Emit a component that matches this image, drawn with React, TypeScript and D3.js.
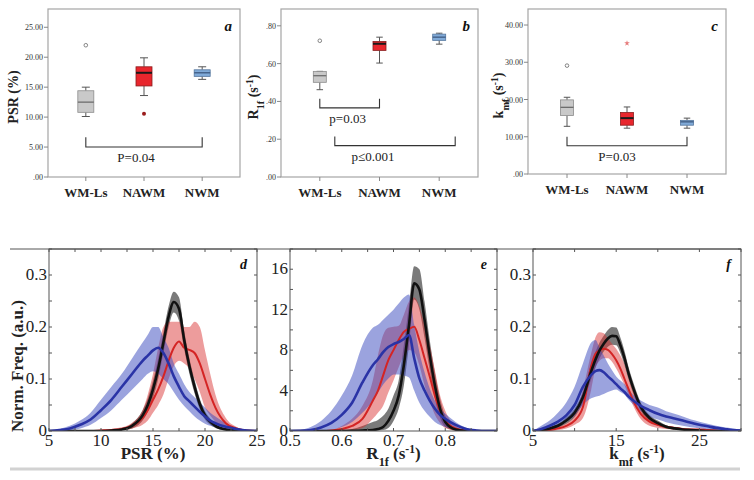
import * as d3 from "d3";
import { useEffect, useRef } from "react";

const W = 754;
const H = 480;
const SERIF = '"Liberation Serif", "Times New Roman", Times, serif';

// ---------- box plots (a, b, c) ----------
const groups = ["WM-Ls", "NAWM", "NWM"];

// [low whisker, Q1, median, Q3, high whisker]
const psrBox = [
  [10.1, 10.8, 12.5, 14.4, 15.0],
  [13.6, 15.2, 17.4, 18.4, 19.9],
  [16.3, 16.8, 17.4, 17.9, 18.4],
];
const psrOutliers = [[22.0], [10.55], []];

const r1fBox = [
  [0.462, 0.501, 0.536, 0.559, 0.559],
  [0.603, 0.67, 0.705, 0.717, 0.74],
  [0.703, 0.723, 0.74, 0.756, 0.761],
];
const r1fOutliers = [[0.721], [], []];

const kmfBox = [
  [12.8, 15.7, 17.9, 19.9, 20.6],
  [12.3, 13.1, 15.0, 16.5, 18.0],
  [12.3, 13.1, 14.0, 14.4, 15.0],
];
const kmfOutliers = [[29.1], [35.1], []];

const psrTicks = [0, 5, 10, 15, 20, 25];
const r1fTicks = [0, 0.2, 0.4, 0.6, 0.8];
const kmfTicks = [0, 10, 20, 30, 40];

// ---------- distributions (d, e, f) ----------
const psrX = [5, 6, 7, 8, 9, 10, 11, 12, 13, 14, 14.5, 15, 15.5, 16, 16.5, 17, 17.5, 18, 18.5, 19, 19.5, 20, 20.5, 21, 22, 23, 24, 25];
const psrBlack = [0, 0, 0, 0, 0, 0, 0.001, 0.003, 0.01, 0.03, 0.05, 0.08, 0.12, 0.17, 0.22, 0.248, 0.235, 0.175, 0.125, 0.085, 0.052, 0.03, 0.018, 0.01, 0.003, 0.001, 0, 0];
const psrBlackLo = [0, 0, 0, 0, 0, 0, 0, 0.001, 0.005, 0.02, 0.037, 0.063, 0.1, 0.15, 0.2, 0.228, 0.212, 0.157, 0.11, 0.072, 0.042, 0.022, 0.012, 0.006, 0.001, 0, 0, 0];
const psrBlackHi = [0, 0, 0, 0, 0, 0, 0.002, 0.005, 0.015, 0.04, 0.063, 0.097, 0.14, 0.19, 0.24, 0.268, 0.257, 0.193, 0.14, 0.098, 0.062, 0.038, 0.024, 0.014, 0.005, 0.002, 0, 0];
const psrRed = [0, 0, 0, 0, 0, 0.001, 0.002, 0.004, 0.01, 0.025, 0.04, 0.06, 0.08, 0.105, 0.135, 0.16, 0.172, 0.16, 0.156, 0.15, 0.13, 0.1, 0.07, 0.045, 0.015, 0.005, 0.001, 0];
const psrRedLo = [0, 0, 0, 0, 0, 0, 0.001, 0.002, 0.005, 0.012, 0.02, 0.035, 0.05, 0.07, 0.1, 0.125, 0.135, 0.13, 0.12, 0.1, 0.075, 0.045, 0.03, 0.018, 0.005, 0.001, 0, 0];
const psrRedHi = [0, 0, 0, 0, 0, 0.002, 0.004, 0.007, 0.016, 0.04, 0.07, 0.11, 0.16, 0.2, 0.21, 0.21, 0.21, 0.2, 0.2, 0.21, 0.2, 0.155, 0.11, 0.07, 0.025, 0.008, 0.002, 0];
const psrBlue = [0, 0.002, 0.005, 0.012, 0.022, 0.04, 0.06, 0.085, 0.11, 0.135, 0.145, 0.155, 0.16, 0.15, 0.13, 0.105, 0.085, 0.067, 0.057, 0.047, 0.037, 0.028, 0.02, 0.015, 0.008, 0.004, 0.001, 0];
const psrBlueLo = [0, 0, 0.001, 0.005, 0.012, 0.025, 0.04, 0.06, 0.08, 0.1, 0.11, 0.115, 0.11, 0.1, 0.09, 0.075, 0.06, 0.048, 0.038, 0.028, 0.02, 0.014, 0.01, 0.007, 0.003, 0.001, 0, 0];
const psrBlueHi = [0, 0.004, 0.01, 0.02, 0.035, 0.06, 0.085, 0.11, 0.14, 0.17, 0.185, 0.2, 0.2, 0.18, 0.16, 0.13, 0.11, 0.09, 0.075, 0.065, 0.055, 0.045, 0.035, 0.028, 0.015, 0.006, 0.002, 0];

const r1fX = [0.5, 0.52, 0.54, 0.56, 0.58, 0.6, 0.62, 0.64, 0.66, 0.67, 0.68, 0.69, 0.7, 0.71, 0.72, 0.73, 0.74, 0.75, 0.76, 0.77, 0.78, 0.79, 0.8, 0.82, 0.84, 0.86, 0.88, 0.9];
const r1fBlack = [0, 0, 0, 0, 0, 0, 0.02, 0.05, 0.1, 0.2, 0.4, 1.0, 2.0, 3.5, 6.5, 10.5, 14.6, 14.0, 11.0, 7.5, 4.5, 2.2, 0.9, 0.15, 0, 0, 0, 0];
const r1fBlackLo = [0, 0, 0, 0, 0, 0, 0, 0, 0, 0.05, 0.1, 0.3, 1.0, 2.2, 4.5, 8.5, 13, 12, 9.2, 6, 3.2, 1.3, 0.4, 0.05, 0, 0, 0, 0];
const r1fBlackHi = [0, 0, 0, 0, 0, 0, 0.2, 0.5, 0.9, 1.1, 1.5, 2.2, 3.5, 5, 8.5, 12.5, 16.3, 16, 12.8, 9, 5.8, 3.2, 1.5, 0.3, 0.05, 0, 0, 0];
const r1fRed = [0, 0, 0, 0, 0.05, 0.2, 0.5, 1.2, 3, 4, 5.5, 7, 8, 9, 9.8, 10.1, 10.3, 9, 7.2, 5.4, 3.5, 2, 1, 0.25, 0.05, 0, 0, 0];
const r1fRedLo = [0, 0, 0, 0, 0, 0.05, 0.1, 0.3, 1.2, 1.8, 2.5, 3.8, 5, 6.3, 7.5, 8, 7.8, 6.5, 4.5, 3, 1.6, 0.8, 0.3, 0.05, 0, 0, 0, 0];
const r1fRedHi = [0, 0, 0, 0, 0.1, 0.5, 1.2, 2.5, 5, 7.5, 9.5, 10.2, 10.3, 10.4, 11.5, 12.8, 13.2, 12.3, 10.5, 8.5, 6, 3.5, 2, 0.5, 0.1, 0, 0, 0];
const r1fBlue = [0, 0.02, 0.1, 0.35, 0.8, 1.6, 2.8, 4.8, 6.5, 7.1, 7.8, 8.3, 8.6, 8.8, 9.1, 9.5, 7.2, 5.2, 4, 3, 2.2, 1.6, 1.2, 0.6, 0.2, 0.05, 0, 0];
const r1fBlueLo = [0, 0, 0, 0, 0.1, 0.4, 0.9, 1.8, 3, 3.8, 4.6, 5.2, 5.6, 5.6, 5.5, 5.3, 4, 2.8, 2, 1.4, 0.9, 0.6, 0.4, 0.2, 0.05, 0, 0, 0];
const r1fBlueHi = [0, 0.1, 0.4, 1, 2, 3.5, 5.5, 8.5, 10.2, 10.5, 11, 11.5, 12, 12.6, 13.2, 13.5, 10.5, 7.8, 5.8, 4.2, 3, 2.2, 1.7, 0.9, 0.35, 0.1, 0, 0];

const kmfX = [5, 6, 7, 8, 9, 10, 11, 12, 12.5, 13, 13.5, 14, 14.5, 15, 15.5, 16, 16.5, 17, 18, 19, 20, 21, 22, 23, 24, 25, 26, 27, 28, 29, 30];
const kmfBlack = [0, 0.002, 0.005, 0.01, 0.02, 0.035, 0.065, 0.115, 0.137, 0.155, 0.168, 0.178, 0.183, 0.182, 0.165, 0.14, 0.11, 0.085, 0.045, 0.025, 0.015, 0.008, 0.005, 0.003, 0.002, 0.001, 0, 0, 0, 0, 0];
const kmfBlackLo = [0, 0, 0.002, 0.006, 0.014, 0.027, 0.055, 0.1, 0.122, 0.14, 0.153, 0.162, 0.166, 0.165, 0.15, 0.126, 0.098, 0.074, 0.037, 0.019, 0.01, 0.005, 0.003, 0.001, 0, 0, 0, 0, 0, 0, 0];
const kmfBlackHi = [0, 0.004, 0.008, 0.014, 0.026, 0.043, 0.075, 0.13, 0.152, 0.17, 0.183, 0.194, 0.2, 0.199, 0.18, 0.154, 0.122, 0.096, 0.053, 0.031, 0.02, 0.011, 0.007, 0.005, 0.003, 0.002, 0.001, 0, 0, 0, 0];
const kmfRed = [0, 0.001, 0.002, 0.005, 0.01, 0.02, 0.046, 0.125, 0.148, 0.155, 0.158, 0.156, 0.148, 0.136, 0.12, 0.1, 0.08, 0.06, 0.032, 0.018, 0.012, 0.008, 0.006, 0.004, 0.003, 0.003, 0.002, 0.001, 0, 0, 0];
const kmfRedLo = [0, 0, 0, 0.002, 0.005, 0.012, 0.025, 0.08, 0.12, 0.135, 0.14, 0.14, 0.133, 0.12, 0.105, 0.088, 0.068, 0.05, 0.022, 0.01, 0.006, 0.004, 0.003, 0.002, 0.001, 0.001, 0, 0, 0, 0, 0];
const kmfRedHi = [0, 0.002, 0.004, 0.008, 0.015, 0.03, 0.08, 0.15, 0.18, 0.19, 0.188, 0.178, 0.168, 0.158, 0.145, 0.128, 0.1, 0.08, 0.045, 0.025, 0.015, 0.01, 0.008, 0.006, 0.005, 0.004, 0.003, 0.002, 0.001, 0, 0];
const kmfBlue = [0, 0.004, 0.01, 0.018, 0.03, 0.05, 0.085, 0.108, 0.115, 0.117, 0.113, 0.105, 0.098, 0.09, 0.082, 0.075, 0.066, 0.059, 0.048, 0.04, 0.033, 0.028, 0.024, 0.02, 0.016, 0.012, 0.009, 0.006, 0.004, 0.002, 0.001];
const kmfBlueLo = [0, 0, 0.003, 0.008, 0.018, 0.03, 0.05, 0.063, 0.066, 0.068, 0.071, 0.075, 0.078, 0.08, 0.075, 0.07, 0.06, 0.052, 0.038, 0.028, 0.022, 0.017, 0.013, 0.01, 0.007, 0.005, 0.003, 0.002, 0.001, 0, 0];
const kmfBlueHi = [0, 0.01, 0.02, 0.035, 0.055, 0.085, 0.13, 0.17, 0.175, 0.16, 0.145, 0.13, 0.117, 0.105, 0.097, 0.09, 0.08, 0.07, 0.058, 0.05, 0.045, 0.038, 0.033, 0.028, 0.022, 0.018, 0.014, 0.01, 0.007, 0.005, 0.003];

// styles
const boxFill = ["#c9c9c9", "#e8262d", "#80aad8"];
const boxStroke = ["#8c8c8c", "#8a1c1c", "#55779e"];
const medianColor = ["#6d6d6d", "#1a1a1a", "#3d5a80"];

const lineColor = { black: "#111111", red: "#d42424", blue: "#2a33a6" };
const bandColor = {
  black: "rgba(40,40,40,0.62)",
  red: "rgba(218,48,48,0.48)",
  blue: "rgba(55,72,190,0.5)",
};

type Part = [string, string?];

const richText = (sel: any, parts: Part[]) => {
  parts.forEach(([t, kind]) => {
    const ts = sel.append("tspan").text(t);
    if (kind === "sub") ts.attr("baseline-shift", "sub").attr("font-size", "72%");
    if (kind === "sup") ts.attr("baseline-shift", "super").attr("font-size", "68%");
  });
};

const fmtBox = (v: number) => {
  const s = v.toFixed(2);
  return s.startsWith("0") ? s.slice(1) : s;
};

const boxPanels = [
  {
    letter: "a", left: 48, right: 240, top: 9, bottom: 177, domain: [0, 28.05], ticks: psrTicks,
    stats: psrBox, outliers: psrOutliers, boxW: 16, outlierKind: ["open", "dot", "open"],
    yLabel: [["PSR (%)"]] as Part[], yLabelX: 18,
    brackets: [{ from: 0, to: 2, dx1: 0, dx2: 0, y: 5.0, h: 1.65, text: "P=0.04", tdx: -8 }],
  },
  {
    letter: "b", left: 281, right: 478, top: 9, bottom: 177, domain: [0, 0.889], ticks: r1fTicks,
    stats: r1fBox, outliers: r1fOutliers, boxW: 13, outlierKind: ["open", "open", "open"],
    yLabel: [["R"], ["1f", "sub"], [" (s"], ["-1", "sup"], [")"]] as Part[], yLabelX: 258,
    brackets: [
      { from: 0, to: 1, dx1: 0, dx2: 0, y: 0.366, h: 0.048, text: "p=0.03", tdx: -2 },
      { from: 0, to: 2, dx1: 15, dx2: 16, y: 0.166, h: 0.048, text: "p\u22640.001", tdx: -22 },
    ],
  },
  {
    letter: "c", left: 528, right: 726, top: 9, bottom: 174, domain: [0, 44.3], ticks: kmfTicks,
    stats: kmfBox, outliers: kmfOutliers, boxW: 13, outlierKind: ["open", "star", "open"],
    yLabel: [["k"], ["mf", "sub"], [" (s"], ["-1", "sup"], [")"]] as Part[], yLabelX: 503,
    brackets: [{ from: 0, to: 2, dx1: 0, dx2: 0, y: 7.6, h: 2.4, text: "P=0.03", tdx: -10 }],
  },
];

const distPanels = [
  {
    letter: "d", left: 49, right: 257, xDomain: [5, 25], yDomain: [0, 0.35],
    xMinor: d3.range(5, 25.01, 2.5), xLabels: [5, 10, 15, 20, 25],
    yMinor: d3.range(0, 0.351, 0.05), yLabels: [0, 0.1, 0.2, 0.3],
    x: psrX,
    series: {
      black: [psrBlack, psrBlackLo, psrBlackHi],
      red: [psrRed, psrRedLo, psrRedHi],
      blue: [psrBlue, psrBlueLo, psrBlueHi],
    },
    title: [["PSR (%)"]] as Part[],
  },
  {
    letter: "e", left: 290, right: 497, xDomain: [0.5, 0.9], yDomain: [0, 18],
    xMinor: d3.range(0.5, 0.901, 0.05), xLabels: [0.5, 0.6, 0.7, 0.8],
    yMinor: d3.range(0, 18.01, 2), yLabels: [0, 4, 8, 12, 16],
    x: r1fX,
    series: {
      black: [r1fBlack, r1fBlackLo, r1fBlackHi],
      red: [r1fRed, r1fRedLo, r1fRedHi],
      blue: [r1fBlue, r1fBlueLo, r1fBlueHi],
    },
    title: [["R"], ["1f", "sub"], [" (s"], ["-1", "sup"], [")"]] as Part[],
  },
  {
    letter: "f", left: 533, right: 741, xDomain: [5, 30], yDomain: [0, 0.35],
    xMinor: d3.range(5, 30.01, 5), xLabels: [5, 15, 25],
    yMinor: d3.range(0, 0.351, 0.05), yLabels: [0, 0.1, 0.2, 0.3],
    x: kmfX,
    series: {
      black: [kmfBlack, kmfBlackLo, kmfBlackHi],
      red: [kmfRed, kmfRedLo, kmfRedHi],
      blue: [kmfBlue, kmfBlueLo, kmfBlueHi],
    },
    title: [["k"], ["mf", "sub"], [" (s"], ["-1", "sup"], [")"]] as Part[],
  },
];

const DIST_TOP = 249;
const DIST_BOTTOM = 431;

const App = () => {
  const chartRef = useRef<SVGSVGElement>(null);

  useEffect(() => {
    const svg = d3.select(chartRef.current);
    svg.selectAll("*").remove();
    svg.append("rect").attr("width", W).attr("height", H).attr("fill", "#ffffff");

    // ---- box plot panels
    boxPanels.forEach((p) => {
      const g = svg.append("g");
      const x = d3.scalePoint<string>().domain(groups).range([p.left, p.right]).padding(0.65);
      const y = d3.scaleLinear().domain(p.domain).range([p.bottom, p.top]);

      g.append("rect")
        .attr("x", p.left).attr("y", p.top)
        .attr("width", p.right - p.left).attr("height", p.bottom - p.top)
        .attr("fill", "none").attr("stroke", "#a5a5a5").attr("stroke-width", 1.2);

      p.ticks.forEach((t) => {
        g.append("line")
          .attr("x1", p.left - 4).attr("x2", p.left)
          .attr("y1", y(t)).attr("y2", y(t))
          .attr("stroke", "#888");
        g.append("text")
          .attr("x", p.left - 5).attr("y", y(t) + 3)
          .attr("text-anchor", "end")
          .style("font-family", SERIF).attr("font-size", 8)
          .attr("fill", "#333")
          .text(fmtBox(t));
      });

      groups.forEach((name) => {
        const cx = x(name)!;
        g.append("line")
          .attr("x1", cx).attr("x2", cx)
          .attr("y1", p.bottom).attr("y2", p.bottom + 4)
          .attr("stroke", "#888");
        g.append("text")
          .attr("x", cx).attr("y", p.bottom + 20)
          .attr("text-anchor", "middle")
          .style("font-family", SERIF).attr("font-size", 13).attr("font-weight", "bold")
          .attr("fill", "#222")
          .text(name);
      });

      // boxes
      p.stats.forEach((s, i) => {
        const cx = x(groups[i])!;
        const bw = p.boxW;
        const wc = "#555";
        g.append("line").attr("x1", cx).attr("x2", cx).attr("y1", y(s[0])).attr("y2", y(s[1])).attr("stroke", wc);
        g.append("line").attr("x1", cx).attr("x2", cx).attr("y1", y(s[3])).attr("y2", y(s[4])).attr("stroke", wc);
        [s[0], s[4]].forEach((v) => {
          g.append("line")
            .attr("x1", cx - bw / 4).attr("x2", cx + bw / 4)
            .attr("y1", y(v)).attr("y2", y(v))
            .attr("stroke", wc);
        });
        g.append("rect")
          .attr("x", cx - bw / 2).attr("y", y(s[3]))
          .attr("width", bw).attr("height", Math.max(1, y(s[1]) - y(s[3])))
          .attr("fill", boxFill[i]).attr("stroke", boxStroke[i]).attr("stroke-width", 0.8);
        g.append("line")
          .attr("x1", cx - bw / 2).attr("x2", cx + bw / 2)
          .attr("y1", y(s[2])).attr("y2", y(s[2]))
          .attr("stroke", medianColor[i]).attr("stroke-width", i === 1 ? 2 : 1.3);

        p.outliers[i].forEach((v) => {
          const kind = p.outlierKind[i];
          if (kind === "open") {
            g.append("circle").attr("cx", cx).attr("cy", y(v)).attr("r", 1.8)
              .attr("fill", "#fff").attr("stroke", "#777").attr("stroke-width", 0.9);
          } else if (kind === "dot") {
            g.append("circle").attr("cx", cx).attr("cy", y(v)).attr("r", 2)
              .attr("fill", "#9a1c1c");
          } else {
            g.append("path")
              .attr("d", d3.symbol().type(d3.symbolStar).size(10)())
              .attr("transform", `translate(${cx},${y(v)})`)
              .attr("fill", "#e67b7b");
          }
        });
      });

      // significance brackets
      p.brackets.forEach((b) => {
        const x1 = x(groups[b.from])! + b.dx1;
        const x2 = x(groups[b.to])! + b.dx2;
        const yb = y(b.y);
        const yt = y(b.y + b.h);
        g.append("path")
          .attr("d", `M${x1},${yt}V${yb}H${x2}V${yt}`)
          .attr("fill", "none").attr("stroke", "#333").attr("stroke-width", 1.1);
        g.append("text")
          .attr("x", (x1 + x2) / 2 + b.tdx).attr("y", yb + 15)
          .attr("text-anchor", "middle")
          .style("font-family", SERIF).attr("font-size", 13)
          .attr("fill", "#222")
          .text(b.text);
      });

      g.append("text")
        .attr("x", p.right - 8).attr("y", p.top + 22)
        .attr("text-anchor", "end")
        .style("font-family", SERIF).attr("font-size", 15)
        .attr("font-weight", "bold").attr("font-style", "italic")
        .attr("fill", "#111")
        .text(p.letter);

      const yl = g.append("text")
        .attr("transform", `translate(${p.yLabelX},${(p.top + p.bottom) / 2 + 4}) rotate(-90)`)
        .attr("text-anchor", "middle")
        .style("font-family", SERIF).attr("font-size", 14).attr("font-weight", "bold")
        .attr("fill", "#222");
      richText(yl, p.yLabel);
    });

    // ---- distribution panels
    svg.append("line")
      .attr("x1", 10).attr("x2", 741)
      .attr("y1", DIST_TOP).attr("y2", DIST_TOP)
      .attr("stroke", "#555").attr("stroke-width", 1);
    svg.append("line")
      .attr("x1", 10).attr("x2", 740)
      .attr("y1", 469).attr("y2", 469)
      .attr("stroke", "#d2d2d2").attr("stroke-width", 3);

    distPanels.forEach((p, pi) => {
      const g = svg.append("g");
      const x = d3.scaleLinear().domain(p.xDomain).range([p.left, p.right]);
      const y = d3.scaleLinear().domain(p.yDomain).range([DIST_BOTTOM, DIST_TOP]);
      const clipId = `clip-${p.letter}`;
      g.append("clipPath").attr("id", clipId)
        .append("rect")
        .attr("x", p.left).attr("y", DIST_TOP)
        .attr("width", p.right - p.left).attr("height", DIST_BOTTOM - DIST_TOP);

      const plot = g.append("g").attr("clip-path", `url(#${clipId})`);
      const keys: ("black" | "red" | "blue")[] = ["black", "red", "blue"];

      keys.forEach((k) => {
        const [, lo, hi] = p.series[k];
        const area = d3.area<number>()
          .x((d) => x(d))
          .y0((d, i) => y(lo[i]))
          .y1((d, i) => y(hi[i]))
          .curve(d3.curveMonotoneX);
        plot.append("path").attr("d", area(p.x)).attr("fill", bandColor[k]);
      });

      (["red", "black", "blue"] as ("black" | "red" | "blue")[]).forEach((k) => {
        const mean = p.series[k][0];
        const line = d3.line<number>()
          .x((d) => x(d))
          .y((d, i) => y(mean[i]))
          .curve(d3.curveMonotoneX);
        plot.append("path")
          .attr("d", line(p.x))
          .attr("fill", "none")
          .attr("stroke", lineColor[k])
          .attr("stroke-width", k === "red" ? 2 : 2.6)
          .attr("stroke-linejoin", "round");
      });

      g.append("rect")
        .attr("x", p.left).attr("y", DIST_TOP)
        .attr("width", p.right - p.left).attr("height", DIST_BOTTOM - DIST_TOP)
        .attr("fill", "none").attr("stroke", "#555").attr("stroke-width", 1);

      p.xMinor.forEach((t) => {
        const xx = x(t);
        g.append("line").attr("x1", xx).attr("x2", xx).attr("y1", DIST_BOTTOM).attr("y2", DIST_BOTTOM - 3).attr("stroke", "#555");
        g.append("line").attr("x1", xx).attr("x2", xx).attr("y1", DIST_TOP).attr("y2", DIST_TOP + 3).attr("stroke", "#555");
      });
      p.yMinor.forEach((t) => {
        const yy = y(t);
        g.append("line").attr("x1", p.left).attr("x2", p.left + 3).attr("y1", yy).attr("y2", yy).attr("stroke", "#555");
        g.append("line").attr("x1", p.right).attr("x2", p.right - 3).attr("y1", yy).attr("y2", yy).attr("stroke", "#555");
      });

      p.xLabels.forEach((t) => {
        g.append("text")
          .attr("x", x(t)).attr("y", DIST_BOTTOM + 15)
          .attr("text-anchor", "middle")
          .style("font-family", SERIF).attr("font-size", 17)
          .attr("fill", "#222")
          .text(String(t));
      });
      p.yLabels.forEach((t) => {
        g.append("text")
          .attr("x", p.left - 2).attr("y", y(t) + 5)
          .attr("text-anchor", "end")
          .style("font-family", SERIF).attr("font-size", 17)
          .attr("fill", "#222")
          .text(String(t));
      });

      const title = g.append("text")
        .attr("x", (p.left + p.right) / 2).attr("y", 459)
        .attr("text-anchor", "middle")
        .style("font-family", SERIF).attr("font-size", 17).attr("font-weight", "bold")
        .attr("fill", "#222");
      richText(title, p.title);

      g.append("text")
        .attr("x", p.right - 10).attr("y", DIST_TOP + 20)
        .attr("text-anchor", "end")
        .style("font-family", SERIF).attr("font-size", 14)
        .attr("font-weight", "bold").attr("font-style", "italic")
        .attr("fill", "#111")
        .text(p.letter);

      if (pi === 0) {
        g.append("text")
          .attr("transform", `translate(23,${366}) rotate(-90)`)
          .attr("text-anchor", "middle")
          .style("font-family", SERIF).attr("font-size", 17).attr("font-weight", "bold")
          .attr("fill", "#222")
          .text("Norm. Freq. (a.u.)");
      }
    });
  }, []);

  return (
    <svg
      ref={chartRef}
      width={W}
      height={H}
      style={{ position: "absolute", left: 0, top: 0, display: "block" }}
    ></svg>
  );
};

export default App;
